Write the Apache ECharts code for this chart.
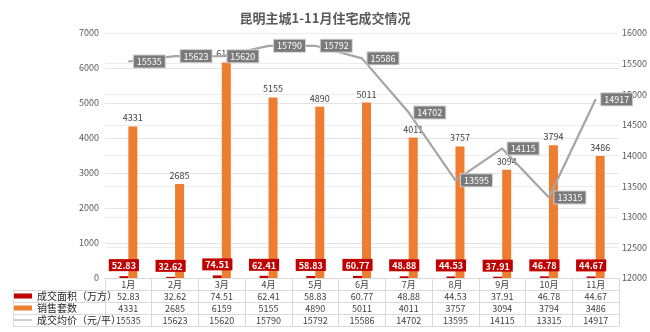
<!DOCTYPE html>
<html><head><meta charset="utf-8">
<script src="https://cdn.jsdelivr.net/npm/echarts@6/dist/echarts.min.js"></script>
<style>html,body{margin:0;padding:0;background:#fff}#c{width:650px;height:332px}</style>
</head><body><div id="c"></div>
<script>
const titleText = '昆明主城1-11月住宅成交情况';
const months = ['1月','2月','3月','4月','5月','6月','7月','8月','9月','10月','11月'];
const areaVals = [52.83,32.62,74.51,62.41,58.83,60.77,48.88,44.53,37.91,46.78,44.67];
const unitVals = [4331,2685,6159,5155,4890,5011,4011,3757,3094,3794,3486];
const priceVals = [15535,15623,15620,15790,15792,15586,14702,13595,14115,13315,14917];
const seriesNames = ['成交面积（万方）','销售套数','成交均价（元/平）'];
const leftAxis = {min:0, max:7000, interval:1000};
const rightAxis = {min:12000, max:16000, interval:500};

const FONT = '"Noto Sans CJK SC","Noto Sans",sans-serif';
const GRID = {left:105, right:30, top:33, bottom:54};
const ROW = 12;
const lineC = '#d9d9d9';
const txtC = '#404040';

function tableAxis(data, k, showLabel){
  return {
    type:'category', data:data, position:'bottom', offset:ROW*k, gridIndex:0,
    boundaryGap:true,
    axisLine:{show:true, lineStyle:{color:lineC, width:1}},
    axisTick:{show:showLabel, length:ROW, lineStyle:{color:lineC}},
    axisLabel:{show:showLabel, margin:2, fontSize:9, color:txtC, fontFamily:FONT, interval:0},
    splitLine:{show:false}
  };
}

const chart = echarts.init(document.getElementById('c'), null, {renderer:'canvas'});
const tTop = 332 - GRID.bottom;
const graphics = [];
for (let i=1;i<=4;i++){
  graphics.push({type:'line', shape:{x1:13, y1:tTop+ROW*i+0.5, x2:GRID.left, y2:tTop+ROW*i+0.5}, style:{stroke:lineC, lineWidth:1}});
}
graphics.push({type:'line', shape:{x1:13.5, y1:tTop+ROW, x2:13.5, y2:tTop+ROW*4}, style:{stroke:lineC, lineWidth:1}});

chart.setOption({
  animation:false,
  backgroundColor:'#fff',
  textStyle:{fontFamily:FONT},
  title:{text:titleText, left:'center', top:7, textStyle:{fontSize:13, fontWeight:'bold', color:'#595959', fontFamily:FONT}},
  grid:GRID,
  legend:{
    orient:'vertical', left:14, top:tTop+ROW, padding:0, itemGap:0, itemWidth:18, itemHeight:5,
    textStyle:{fontSize:10, color:'#262626', lineHeight:12, fontFamily:FONT},
    data:[{name:seriesNames[0], icon:'rect'},{name:seriesNames[1], icon:'rect'},{name:seriesNames[2], icon:'path://M0,2L20,2L20,3.2L0,3.2Z'}]
  },
  xAxis:[
    tableAxis(months,0,true),
    tableAxis(areaVals.map(v=>v.toFixed(2)),1,true),
    tableAxis(unitVals.map(String),2,true),
    tableAxis(priceVals.map(String),3,true),
    tableAxis(months,4,false)
  ],
  yAxis:[
    {type:'value', min:leftAxis.min, max:leftAxis.max, interval:leftAxis.interval,
     axisLine:{show:false}, axisTick:{show:false},
     axisLabel:{fontSize:9, color:'#595959', margin:6, formatter:v=>String(v)},
     splitLine:{lineStyle:{color:'#e3e3e3'}}},
    {type:'value', min:rightAxis.min, max:rightAxis.max, interval:rightAxis.interval,
     axisLine:{show:false}, axisTick:{show:false},
     axisLabel:{fontSize:9, color:'#595959', margin:3, formatter:v=>String(v)},
     splitLine:{lineStyle:{color:'#ececec'}}}
  ],
  series:[
    {name:seriesNames[0], type:'bar', data:areaVals, xAxisIndex:0, yAxisIndex:0,
     barWidth:9, barGap:'0%', itemStyle:{color:'#c00000'},
     label:{show:true, position:'top', distance:5, formatter:p=>p.value.toFixed(2),
       backgroundColor:'#c00000', color:'#fff', fontSize:9, fontWeight:'bold', padding:[2,3,1,3]}},
    {name:seriesNames[1], type:'bar', data:unitVals, xAxisIndex:0, yAxisIndex:0,
     barWidth:9, barGap:'0%', itemStyle:{color:'#ed7d31'},
     label:{show:true, position:'top', distance:4, color:txtC, fontSize:9}},
    {name:seriesNames[2], type:'line', data:priceVals, xAxisIndex:0, yAxisIndex:1, z:5,
     symbol:'circle', symbolSize:1, showSymbol:true,
     lineStyle:{color:'#a5a5a5', width:2.2}, itemStyle:{color:'#a5a5a5'},
     label:{show:true, position:'right', distance:5, backgroundColor:'#7a7a7a', color:'#fff',
       fontSize:9, padding:[2,3,1,3], borderColor:'#d0d0d0', borderWidth:1}}
  ],
  graphic:graphics
});
</script></body></html>
